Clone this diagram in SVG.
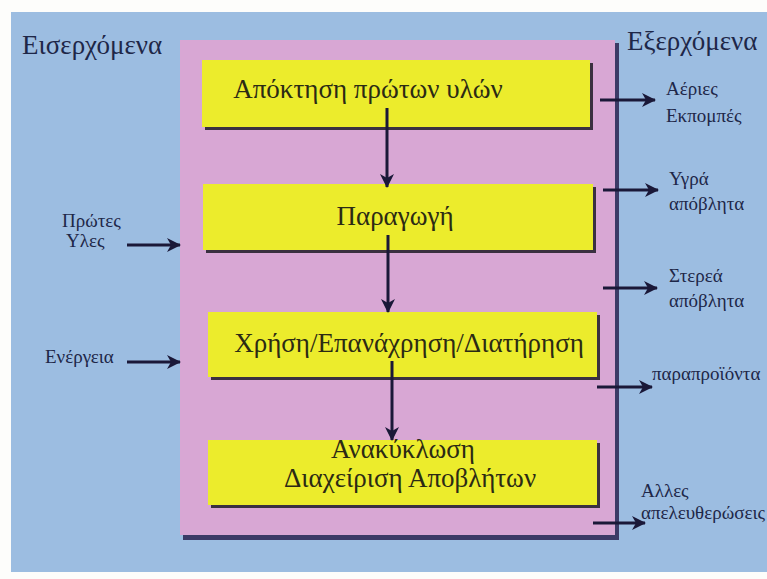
<svg xmlns="http://www.w3.org/2000/svg" width="767" height="579" viewBox="0 0 767 579">
<defs>
<style>
.t{font-family:"Liberation Serif","DejaVu Serif",serif;fill:#1e2748}
.s{font-size:19px}
.b{font-family:"Liberation Serif","DejaVu Serif",serif;fill:#2b2a14;font-size:27px;text-anchor:middle}
.box{fill:#ecec2c}
.sh{fill:#3a3040}
.c line{stroke:#1a1838;stroke-width:3}
</style>
<marker id="ah" viewBox="0 0 14 14" refX="13" refY="7" markerWidth="14" markerHeight="14" orient="auto" markerUnits="userSpaceOnUse">
<path d="M0,0 L14,7 L0,14 L4,7 z" fill="#1a1838"/>
</marker>
</defs>
<rect width="767" height="579" fill="#fdfdfb"/>
<rect x="11" y="12" width="756" height="560" fill="#9cbde1"/>
<g id="frame">
<rect x="183" y="43" width="436" height="497" fill="#3c3a66"/>
<rect x="180" y="40" width="435" height="495" fill="#d8a7d4"/>
</g>
<g id="n1">
<rect x="205" y="63" width="388" height="67" class="sh"/>
<rect x="202" y="60" width="388" height="67" class="box"/>
<text x="368" y="98" class="b">Απόκτηση πρώτων υλών</text>
</g>
<g id="n2">
<rect x="206" y="187" width="390" height="66" class="sh"/>
<rect x="203" y="184" width="390" height="66" class="box"/>
<text x="395" y="225" class="b">Παραγωγή</text>
</g>
<g id="n3">
<rect x="211" y="315" width="389" height="65" class="sh"/>
<rect x="208" y="312" width="389" height="65" class="box"/>
<text x="409" y="352" class="b">Χρήση/Επανάχρηση/Διατήρηση</text>
</g>
<g id="n4">
<rect x="211" y="443" width="389" height="65" class="sh"/>
<rect x="208" y="440" width="389" height="65" class="box"/>
<text x="403" y="458" class="b">Ανακύκλωση</text>
<text x="410" y="487" class="b">Διαχείριση Αποβλήτων</text>
</g>
<g id="labels" class="t">
<text x="22" y="54" font-size="27">Εισερχόμενα</text>
<text x="627" y="50" font-size="27">Εξερχόμενα</text>
<text x="62" y="227" class="s">Πρώτες</text>
<text x="66" y="247" class="s">Υλες</text>
<text x="45" y="363" class="s">Ενέργεια</text>
<text x="666" y="95" class="s">Αέριες</text>
<text x="666" y="122" class="s">Εκπομπές</text>
<text x="669" y="185" class="s">Υγρά</text>
<text x="669" y="210" class="s">απόβλητα</text>
<text x="669" y="282" class="s">Στερεά</text>
<text x="669" y="307" class="s">απόβλητα</text>
<text x="652" y="380" class="s">παραπροϊόντα</text>
<text x="641" y="497" class="s">Αλλες</text>
<text x="641" y="519" class="s">απελευθερώσεις</text>
</g>
<g id="connectors" class="c">
<line x1="387" y1="108" x2="387" y2="187" marker-end="url(#ah)"/>
<line x1="388" y1="235" x2="388" y2="312" marker-end="url(#ah)"/>
<line x1="392" y1="361" x2="392" y2="440" marker-end="url(#ah)"/>
<line x1="127" y1="245" x2="180" y2="245" marker-end="url(#ah)"/>
<line x1="127" y1="362" x2="180" y2="362" marker-end="url(#ah)"/>
<line x1="600" y1="100" x2="655" y2="100" marker-end="url(#ah)"/>
<line x1="603" y1="190" x2="658" y2="190" marker-end="url(#ah)"/>
<line x1="603" y1="288" x2="657" y2="288" marker-end="url(#ah)"/>
<line x1="597" y1="387" x2="652" y2="387" marker-end="url(#ah)"/>
<line x1="593" y1="523" x2="645" y2="523" marker-end="url(#ah)"/>
</g>
</svg>
